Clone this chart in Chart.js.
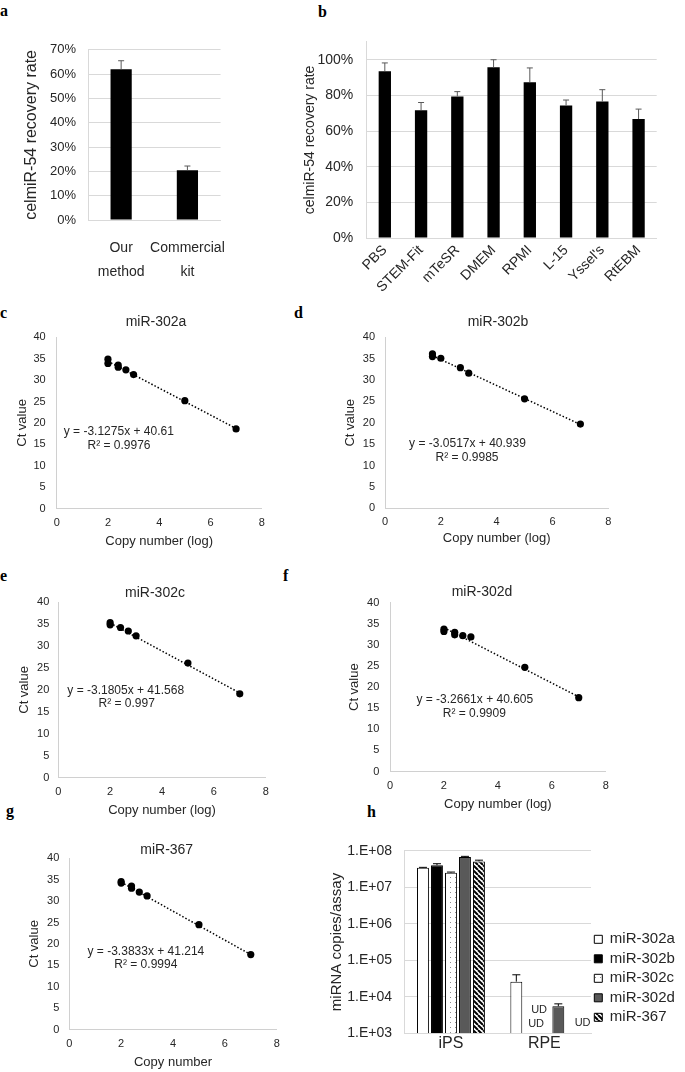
<!DOCTYPE html>
<html>
<head>
<meta charset="utf-8">
<script src="https://cdn.jsdelivr.net/npm/chart.js"></script>
<style>
  body { margin: 0; background: #fff; width: 685px; height: 1072px; position: relative; overflow: hidden; }
  .pane { position: absolute; }
  .tag { position: absolute; font: bold 16px "Liberation Serif", "Times New Roman", serif; line-height: 16px; color: #000; }
</style>
</head>
<body>
<span class="tag" style="left:0;top:3px">a</span>
<span class="tag" style="left:318px;top:4px">b</span>
<span class="tag" style="left:0;top:305px">c</span>
<span class="tag" style="left:294px;top:305px">d</span>
<span class="tag" style="left:0;top:568px">e</span>
<span class="tag" style="left:283px;top:568px">f</span>
<span class="tag" style="left:6px;top:803px">g</span>
<span class="tag" style="left:367px;top:804px">h</span>

<script>
//#####################
// Data
//#####################
// a: recovery, our method vs kit
const methodLabels = [['Our', 'method'], ['Commercial', 'kit']];
const methodRate = [0.62, 0.205];
const methodSd = [0.035, 0.017];
const methodTicks = [0, 0.1, 0.2, 0.3, 0.4, 0.5, 0.6, 0.7];

// b: recovery in different media
const mediaLabels = ['PBS', 'STEM-Fit', 'mTeSR', 'DMEM', 'RPMI', 'L-15', "Yssel's", 'RtEBM'];
const mediaRate = [0.936, 0.717, 0.794, 0.958, 0.874, 0.743, 0.765, 0.667];
const mediaSd = [0.046, 0.043, 0.027, 0.042, 0.080, 0.031, 0.067, 0.056];

// c-g: standard curves, x = log copy number, y = Ct
const logCopy302a = [2, 2, 2.4, 2.4, 2.7, 3, 5, 7];
const ct302a = [34.9, 33.9, 33.5, 33.0, 32.4, 31.3, 25.2, 18.6];
const trendX302a = [2, 7];
const trendY302a = [34.4, 18.7];

const logCopy302b = [1.7, 1.7, 2, 2.7, 3, 5, 7];
const ct302b = [36.1, 35.5, 35.1, 32.9, 31.6, 25.6, 19.7];
const trendX302b = [1.7, 7];
const trendY302b = [35.7, 19.6];

const logCopy302c = [2, 2, 2.4, 2.7, 3, 5, 7];
const ct302c = [35.3, 34.8, 34.2, 33.4, 32.3, 26.1, 19.1];
const trendX302c = [2, 7];
const trendY302c = [35.2, 19.3];

const logCopy302d = [2, 2, 2.4, 2.4, 2.7, 3, 5, 7];
const ct302d = [33.75, 33.2, 33.0, 32.4, 32.2, 31.9, 24.7, 17.5];
const trendX302d = [2, 7];
const trendY302d = [34.1, 17.7];

const logCopy367 = [2, 2, 2.4, 2.4, 2.7, 3, 5, 7];
const ct367 = [34.55, 34.2, 33.5, 33.0, 32.1, 31.2, 24.5, 17.5];
const trendX367 = [2, 7];
const trendY367 = [34.4, 17.5];

// h: copies per assay, iPS vs RPE (null = UD)
const cellLabels = ['iPS', 'RPE'];
const seriesNames = ['miR-302a', 'miR-302b', 'miR-302c', 'miR-302d', 'miR-367'];
const copies302a = [3.4e7, 2.6e4];
const copies302b = [4.0e7, null];
const copies302c = [2.5e7, null];
const copies302d = [6.7e7, 5.5e3];
const copies367 = [5.1e7, null];
const sd302a = [0.1e7, 1.4e4];
const sd302b = [0.4e7, 0];
const sd302c = [0.1e7, 0];
const sd302d = [0.3e7, 0.9e3];
const sd367 = [0.4e7, 0];
const decadeTicks = [1e3, 1e4, 1e5, 1e6, 1e7, 1e8];

//#####################
// Helpers
//#####################
Chart.defaults.animation = false;
Chart.defaults.font.family = '"Liberation Sans", Arial, sans-serif';
Chart.defaults.color = '#262626';
Chart.defaults.plugins.legend.display = false;
Chart.defaults.plugins.tooltip.enabled = false;

const GRID = '#d9d9d9';
const AXIS = '#d0d0d0';
const FONT = '"Liberation Sans", Arial, sans-serif';

const pane = (box) => {
    const d = document.createElement('div');
    d.className = 'pane';
    d.style.left = box.x + 'px';
    d.style.top = box.y + 'px';
    const c = document.createElement('canvas');
    c.width = box.w;
    c.height = box.h;
    d.appendChild(c);
    document.body.appendChild(d);
    return c;
}

const pad = (box, area, right) => ({
    left: 0,
    top: area.t - box.y,
    right: right === undefined ? box.x + box.w - area.r : right,
    bottom: 0
});

// free text (titles, fit equations), page coords
const notes = (box, items) => ({
    id: 'notes',
    afterDraw(chart) {
        const ctx = chart.ctx;
        ctx.save();
        ctx.fillStyle = '#262626';
        ctx.textAlign = 'center';
        ctx.textBaseline = 'middle';
        items.forEach(t => {
            ctx.font = t.size + 'px ' + FONT;
            ctx.fillText(t.text, t.x - box.x, t.y - box.y);
        });
        ctx.restore();
    }
});

// upper error bars on top of bars
const errorBars = (sds, color, cap) => ({
    id: 'errorBars',
    afterDatasetsDraw(chart) {
        const ctx = chart.ctx;
        const ys = chart.scales.y;
        ctx.save();
        ctx.strokeStyle = color;
        ctx.lineWidth = 1;
        sds.forEach((sd, di) => {
            const vals = chart.data.datasets[di].data;
            chart.getDatasetMeta(di).data.forEach((bar, j) => {
                if (vals[j] == null || !sd[j]) return;
                const top = ys.getPixelForValue(vals[j] + sd[j]);
                ctx.beginPath();
                ctx.moveTo(bar.x, bar.y);
                ctx.lineTo(bar.x, top);
                ctx.moveTo(bar.x - cap, top);
                ctx.lineTo(bar.x + cap, top);
                ctx.stroke();
            });
        });
        ctx.restore();
    }
});

//#####################
// a
//#####################
{
    const box = { x: 22, y: 30, w: 223, h: 260 };
    const area = { l: 88, t: 48, r: 227, b: 220 };
    new Chart(pane(box), {
        type: 'bar',
        data: {
            labels: methodLabels,
            datasets: [{ data: methodRate, backgroundColor: '#000', barPercentage: 0.32, categoryPercentage: 1 }]
        },
        options: {
            responsive: false,
            layout: { padding: pad(box, area) },
            scales: {
                x: {
                    afterFit: s => { s.height = box.y + box.h - area.b; },
                    grid: { drawOnChartArea: false, drawTicks: false },
                    border: { color: GRID },
                    ticks: { padding: 15.75, autoSkip: false, minRotation: 0, maxRotation: 0, font: { size: 14, lineHeight: 1.75 } }
                },
                y: {
                    min: 0, max: 0.7,
                    afterFit: s => { s.width = area.l - box.x; },
                    afterBuildTicks: s => { s.ticks = methodTicks.map(v => ({ value: v })); },
                    grid: { color: GRID, drawTicks: false },
                    border: { color: GRID },
                    ticks: { padding: 12, font: { size: 13 }, callback: v => Math.round(v * 100) + '%' },
                    title: { display: true, text: 'celmiR-54 recovery rate', font: { size: 16 }, padding: 0 }
                }
            }
        },
        plugins: [errorBars([methodSd], '#595959', 3)]
    });
}

//#####################
// b
//#####################
{
    const box = { x: 302, y: 20, w: 370, h: 280 };
    const area = { l: 366.7, t: 37, r: 656.7, b: 238 };
    new Chart(pane(box), {
        type: 'bar',
        data: {
            labels: mediaLabels,
            datasets: [{ data: mediaRate, backgroundColor: '#000', barPercentage: 0.34, categoryPercentage: 1 }]
        },
        options: {
            responsive: false,
            layout: { padding: pad(box, area) },
            scales: {
                x: {
                    afterFit: s => { s.height = box.y + box.h - area.b; },
                    grid: { drawOnChartArea: false, drawTicks: false },
                    border: { color: GRID },
                    ticks: { padding: 4, autoSkip: false, minRotation: 45, maxRotation: 45, font: { size: 14 } }
                },
                y: {
                    min: 0, max: 1.1,
                    afterFit: s => { s.width = area.l - box.x; },
                    afterBuildTicks: s => { s.ticks = s.ticks.filter(t => t.value <= 1.0001); },
                    grid: { color: GRID, drawTicks: false },
                    border: { color: GRID },
                    ticks: { stepSize: 0.2, padding: 13.5, font: { size: 14 }, callback: v => Math.round(v * 100) + '%' },
                    title: { display: true, text: 'celmiR-54 recovery rate', font: { size: 14 }, padding: 0 }
                }
            }
        },
        plugins: [errorBars([mediaSd], '#595959', 3)]
    });
}

//#####################
// c - g standard curves
//#####################
const ctPanel = (box, area, xs, ys, tx, ty, xTitle, tickPad, texts) => {
    new Chart(pane(box), {
        type: 'scatter',
        data: {
            datasets: [
                { data: xs.map((x, i) => ({ x: x, y: ys[i] })), backgroundColor: '#000', borderColor: '#000', pointRadius: 3.6, borderWidth: 0 },
                { type: 'line', data: tx.map((x, i) => ({ x: x, y: ty[i] })), borderColor: '#000', borderWidth: 1.5, borderDash: [1.5, 2], pointRadius: 0, fill: false }
            ]
        },
        options: {
            responsive: false,
            layout: { padding: pad(box, area) },
            scales: {
                x: {
                    type: 'linear', min: 0, max: 8,
                    afterFit: s => { s.height = box.y + box.h - area.b; },
                    grid: { drawOnChartArea: false, drawTicks: false },
                    border: { color: AXIS },
                    ticks: { stepSize: 2, padding: 7.4, font: { size: 11 } },
                    title: { display: true, text: xTitle, font: { size: 13 }, padding: 0 }
                },
                y: {
                    min: 0, max: 40,
                    afterFit: s => { s.width = area.l - box.x; },
                    grid: { drawOnChartArea: false, drawTicks: false },
                    border: { color: AXIS },
                    ticks: { stepSize: 5, padding: tickPad, font: { size: 11 } },
                    title: { display: true, text: 'Ct value', font: { size: 13 }, padding: 0 }
                }
            }
        },
        plugins: [notes(box, texts)]
    });
}

ctPanel({ x: 15, y: 305, w: 285, h: 244.5 }, { l: 56.7, t: 337.3, r: 261.7, b: 509 },
    logCopy302a, ct302a, trendX302a, trendY302a, 'Copy number (log)', 11, [
        { text: 'miR-302a', x: 156, y: 322, size: 14 },
        { text: 'y = -3.1275x + 40.61', x: 118.8, y: 431.7, size: 12 },
        { text: 'R² = 0.9976', x: 119, y: 446, size: 12 }
    ]);

ctPanel({ x: 343, y: 305, w: 320, h: 241.8 }, { l: 385, t: 337.3, r: 608.3, b: 509 },
    logCopy302b, ct302b, trendX302b, trendY302b, 'Copy number (log)', 10, [
        { text: 'miR-302b', x: 498, y: 322, size: 14 },
        { text: 'y = -3.0517x + 40.939', x: 467.5, y: 444, size: 12 },
        { text: 'R² = 0.9985', x: 467, y: 457.5, size: 12 }
    ]);

ctPanel({ x: 17, y: 578, w: 280, h: 240.5 }, { l: 58.3, t: 602, r: 265.7, b: 778.3 },
    logCopy302c, ct302c, trendX302c, trendY302c, 'Copy number (log)', 9, [
        { text: 'miR-302c', x: 155, y: 593, size: 14 },
        { text: 'y = -3.1805x + 41.568', x: 125.7, y: 690.7, size: 12 },
        { text: 'R² = 0.997', x: 126.7, y: 704, size: 12 }
    ]);

ctPanel({ x: 347, y: 578, w: 300, h: 234.8 }, { l: 390, t: 602.8, r: 605.7, b: 772.3 },
    logCopy302d, ct302d, trendX302d, trendY302d, 'Copy number (log)', 10.7, [
        { text: 'miR-302d', x: 482, y: 591.7, size: 14 },
        { text: 'y = -3.2661x + 40.605', x: 474.8, y: 700, size: 12 },
        { text: 'R² = 0.9909', x: 474.3, y: 714, size: 12 }
    ]);

ctPanel({ x: 27, y: 835, w: 270, h: 235.5 }, { l: 69.3, t: 858.3, r: 276.7, b: 1030 },
    logCopy367, ct367, trendX367, trendY367, 'Copy number', 10, [
        { text: 'miR-367', x: 166.7, y: 850, size: 14 },
        { text: 'y = -3.3833x + 41.214', x: 145.9, y: 951.7, size: 12 },
        { text: 'R² = 0.9994', x: 145.8, y: 965, size: 12 }
    ]);

//#####################
// h
//#####################
const makePattern = (draw) => {
    const t = document.createElement('canvas');
    t.width = 5; t.height = 5;
    const g = t.getContext('2d');
    g.fillStyle = '#fff';
    g.fillRect(0, 0, 5, 5);
    draw(g);
    return g.createPattern(t, 'repeat');
}
const dots = makePattern(g => { g.fillStyle = '#8c8c8c'; g.fillRect(2, 2, 1, 1); });
const hatch = makePattern(g => {
    g.strokeStyle = '#000';
    g.lineWidth = 2;
    g.beginPath();
    [-5, 0, 5].forEach(k => { g.moveTo(k, 0); g.lineTo(k + 5, 5); });
    g.stroke();
});

{
    const box = { x: 327.7, y: 830, w: 357.3, h: 242 };
    const area = { l: 404, t: 846.8, r: 591, b: 1033.3 };
    const fills = ['#fff', '#000', dots, '#595959', hatch];
    const values = [copies302a, copies302b, copies302c, copies302d, copies367];

    // "UD" marks next to the undetected RPE bars
    const udMarks = {
        id: 'udMarks',
        afterDatasetsDraw(chart) {
            const ctx = chart.ctx;
            const bottom = chart.chartArea.bottom;
            const spots = [[1, 5.75, 9], [2, -5.25, 23.3], [4, 10.25, 10.6]];
            ctx.save();
            ctx.font = '11px ' + FONT;
            ctx.fillStyle = '#262626';
            ctx.textAlign = 'center';
            ctx.textBaseline = 'middle';
            spots.forEach(([di, dx, dy]) => {
                const bar = chart.getDatasetMeta(di).data[1];
                ctx.fillText('UD', bar.x + dx, bottom - dy);
            });
            ctx.restore();
        }
    };

    // place the legend column like the original
    const legendSpot = {
        id: 'legendSpot',
        afterLayout(chart) {
            chart.legend.left = 593 - 3.5 - box.x;
            chart.legend.top = 939.3 - 7.5 - 4.5 - box.y;
        }
    };

    new Chart(pane(box), {
        type: 'bar',
        data: {
            labels: cellLabels,
            datasets: seriesNames.map((name, i) => ({
                label: name,
                data: values[i],
                backgroundColor: fills[i],
                borderColor: '#000',
                borderWidth: 1,
                barPercentage: 0.85,
                categoryPercentage: 0.75
            }))
        },
        options: {
            responsive: false,
            layout: { padding: pad(box, area, 0) },
            plugins: {
                legend: {
                    display: true,
                    position: 'right',
                    align: 'start',
                    maxWidth: 94,
                    labels: { boxWidth: 8, boxHeight: 8, padding: 4.5, font: { size: 15 }, color: '#262626' }
                }
            },
            scales: {
                x: {
                    afterFit: s => { s.height = box.y + box.h - area.b; },
                    grid: { drawOnChartArea: false, drawTicks: false },
                    border: { color: GRID },
                    ticks: { padding: 0.5, font: { size: 16 } }
                },
                y: {
                    type: 'logarithmic', min: 1e3, max: 1e8,
                    afterFit: s => { s.width = area.l - box.x; },
                    afterBuildTicks: s => { s.ticks = decadeTicks.map(v => ({ value: v })); },
                    grid: { color: GRID, drawTicks: false },
                    border: { color: GRID },
                    ticks: { padding: 12.3, font: { size: 14 }, callback: v => '1.E+0' + Math.round(Math.log10(v)) },
                    title: { display: true, text: 'miRNA copies/assay', font: { size: 15 }, padding: 0 }
                }
            }
        },
        plugins: [errorBars([sd302a, sd302b, sd302c, sd302d, sd367], '#000', 4), udMarks, legendSpot]
    });
}
</script>
</body>
</html>
